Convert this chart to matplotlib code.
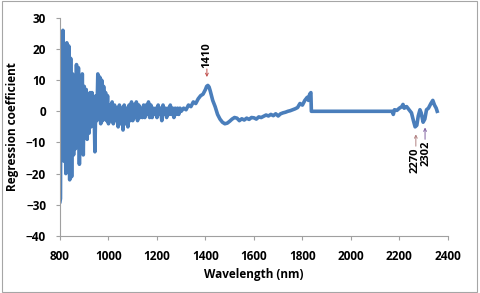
import numpy as np
from matplotlib import pyplot as plt
from matplotlib.patches import Rectangle

# wavelength (nm) and regression coefficient
wl_noisy = [800, 802, 804, 808, 812, 816, 820, 824, 828, 832, 836, 840, 844, 848, 852, 856,
            860, 864, 868, 872, 876, 880, 884, 888, 892, 896, 900, 904, 908, 912, 916, 920,
            924, 928, 932, 936, 940, 944, 948, 952, 956, 960, 964, 968, 972, 976, 980, 984,
            988, 992, 996]
coef_noisy = [-29, -28, 22, -10, 26, -16, 18, -20, 22, -18, 21, -22, 17, -21, 12, -14,
              10, -12, 15, -8, 14, -17, 9, -10, 12, -14, 8, -6, 7, -9, 5, -7,
              6, -5, 6, -4, 4, -13, 5, -3, 12, -2, 11, -4, 10, -3, 8, -2,
              6, -3, 5]

wl_mid = [1000, 1005, 1010, 1015, 1020, 1025, 1030, 1035, 1040, 1045, 1050, 1055, 1060,
          1065, 1070, 1075, 1080, 1085, 1090, 1095, 1100, 1105, 1110, 1115, 1120, 1125,
          1130, 1135, 1140, 1145, 1150, 1155, 1160, 1165, 1170, 1175, 1180, 1185, 1190,
          1195, 1200, 1205, 1210, 1215, 1220, 1225, 1230, 1235, 1240, 1245, 1250, 1255,
          1260, 1265, 1270, 1275, 1280, 1285, 1290, 1295, 1300]
coef_mid = [-4, 2, -3, 3, -4, 2, -3, 1, -5, 2, -4, 1, -6,
            2, -4, 1, -5, 2, -3, 3, -3, 2, -2, 3, -3, 2,
            -2, 1, -2, 2, -2, 2, -1, 3, -2, 2, -2, 1, -1,
            1, -2, 2, -1, 1, -3, 2, -1, 1, -2, 1, -1, 2,
            -1, 1, -2, 1, -1, 1, -1, 1, 0]

wl_smooth = [1310, 1320, 1330, 1340, 1350, 1360, 1370, 1380, 1390, 1400, 1405, 1410, 1415,
             1420, 1430, 1440, 1450, 1460, 1470, 1480, 1490, 1500, 1510, 1520, 1530, 1540,
             1550, 1560, 1570, 1580, 1590, 1600, 1610, 1620, 1630, 1640, 1650, 1660, 1670,
             1680, 1690, 1700, 1710, 1720, 1730, 1740, 1750, 1760, 1770, 1780, 1790, 1800,
             1810, 1820, 1825, 1830, 1835, 1837]
coef_smooth = [1, 0.5, 2, 1.5, 3, 2.5, 4, 5, 5.5, 7, 8, 8.3, 7.8,
               6.5, 3.5, 1.5, -1, -2.5, -3.5, -4, -3.8, -3.2, -2.5, -2, -2.2, -3,
               -2.4, -2.8, -2.2, -2.6, -2, -2.1, -2.5, -1.8, -2, -1.6, -1.2, -1.5, -1,
               -1.4, -0.8, -1.5, -0.8, -0.5, -0.3, 0, 0.2, 0.5, 0.8, 1.2, 2.5, 2,
               3.5, 4.5, 3.5, 5.5, 6, 0]

wl_end = [2170, 2175, 2180, 2190, 2200, 2210, 2215, 2220, 2230, 2240, 2250, 2258, 2265,
          2272, 2278, 2285, 2290, 2298, 2305, 2312, 2320, 2330, 2338, 2345, 2352, 2356]
coef_end = [0, -1, 0.5, 0.3, 1, 1.5, 2.2, 1, 1.5, 0.5, -0.5, -3, -5,
            -4.5, -1.5, 0.5, -0.5, -3.5, -2.5, 0.5, 1, 2.5, 3.5, 2, 1, 0]

wl = wl_noisy + wl_mid + wl_smooth + wl_end
coef = coef_noisy + coef_mid + coef_smooth + coef_end

plt.rcParams['font.family'] = ['Open Sans', 'DejaVu Sans']

fig = plt.figure(figsize=(4.8, 2.93), dpi=100)
ax = fig.add_axes([0.125, 0.195, 0.808, 0.744])

ax.plot(wl, coef, color='#4a7ebb', lw=2.6, solid_joinstyle='round')

ax.set_xlim(800, 2400)
ax.set_ylim(-40, 30)
ax.set_xticks(np.arange(800, 2401, 200))
ax.set_yticks(np.arange(-40, 31, 10))
for s in ['top', 'right']:
    ax.spines[s].set_visible(False)
for s in ['left', 'bottom']:
    ax.spines[s].set_color('#a0a0a0')
    ax.spines[s].set_linewidth(0.8)
ax.tick_params(direction='out', length=3, color='#a0a0a0', labelsize=8.5, pad=7)
for lab in ax.get_xticklabels() + ax.get_yticklabels():
    lab.set_fontweight('bold')

ax.set_xlabel('Wavelength (nm)', fontsize=8.5, fontweight='bold', labelpad=4)
ax.set_ylabel('Regression coefficient', fontsize=8.5, fontweight='bold', labelpad=5)

# peak annotations
arr = dict(arrowstyle='->', lw=0.7, mutation_scale=5, shrinkA=0, shrinkB=0)
ax.annotate('', xy=(1406, 11), xytext=(1406, 13.6),
            arrowprops=dict(arr, color='#c0504d'))
ax.text(1406, 14.0, '1410', rotation=90, ha='center', va='bottom',
        fontsize=8, fontweight='bold')
ax.annotate('', xy=(2268, -7.4), xytext=(2268, -11.2),
            arrowprops=dict(arr, color='#b08080'))
ax.text(2265, -11.6, '2270', rotation=90, ha='center', va='top',
        fontsize=8, fontweight='bold')
ax.annotate('', xy=(2306, -5.2), xytext=(2306, -9.0),
            arrowprops=dict(arr, color='#8060a0'))
ax.text(2309, -9.4, '2302', rotation=90, ha='center', va='top',
        fontsize=8, fontweight='bold')

# outer chart border
fig.patches.append(Rectangle((0.004, 0.005), 0.99, 0.99, transform=fig.transFigure,
                             fill=False, edgecolor='#a6a6a6', lw=0.8))

fig.savefig('out.png', dpi=100)
